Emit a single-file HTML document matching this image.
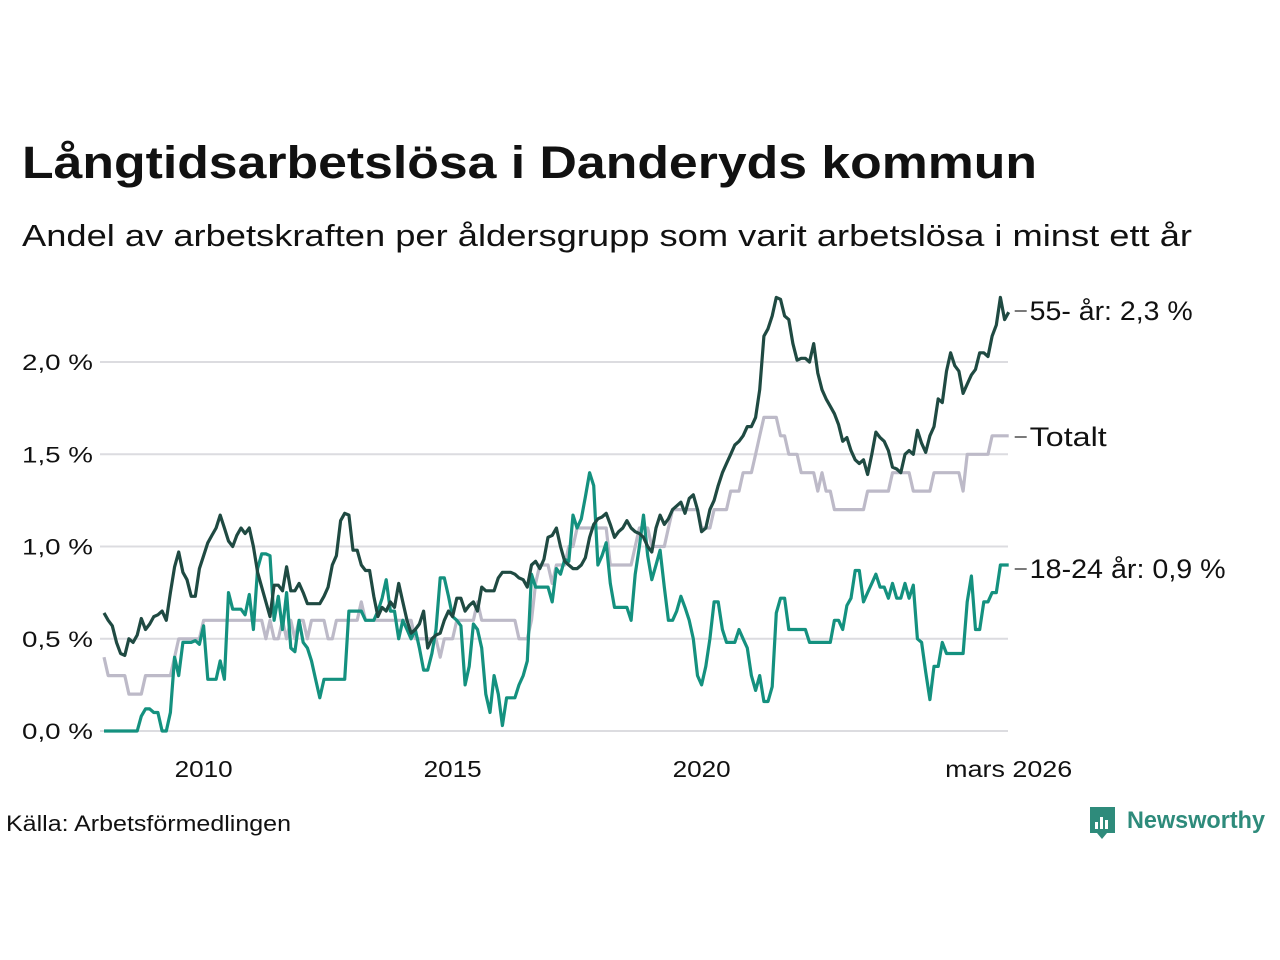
<!DOCTYPE html>
<html><head><meta charset="utf-8">
<style>
html,body{margin:0;padding:0;background:#fff;}
svg{display:block;font-family:"Liberation Sans",sans-serif;}
</style></head>
<body>
<svg id="chart" width="1280" height="960" viewBox="0 0 1280 960" xmlns="http://www.w3.org/2000/svg">
<rect width="1280" height="960" fill="#fff"/>
<text x="22" y="178" font-size="45" font-weight="bold" fill="#111" textLength="1015" lengthAdjust="spacingAndGlyphs">Långtidsarbetslösa i Danderyds kommun</text>
<text x="22" y="246" font-size="31" fill="#111" textLength="1170" lengthAdjust="spacingAndGlyphs">Andel av arbetskraften per åldersgrupp som varit arbetslösa i minst ett år</text>
<g id="grid"></g>
<g id="series"></g>
<g id="labels"></g>
<text x="6" y="831" font-size="22" fill="#111" textLength="285" lengthAdjust="spacingAndGlyphs">Källa: Arbetsförmedlingen</text>
<g>
<path d="M1090 807 h25 v26 h-8 l-5 6 l-5 -6 h-7 z" fill="#2e8b7b"/>
<rect x="1095" y="822" width="3" height="7" fill="#fff"/>
<rect x="1100" y="817" width="3" height="12" fill="#fff"/>
<rect x="1105" y="820" width="3" height="9" fill="#fff"/>
<text x="1127" y="828" font-size="24" font-weight="bold" fill="#2e8b7b" textLength="138" lengthAdjust="spacingAndGlyphs">Newsworthy</text>
</g>
</svg>
<script>
const yTicks = [0, 0.5, 1.0, 1.5, 2.0];
const yTickLabels = ["0,0 %", "0,5 %", "1,0 %", "1,5 %", "2,0 %"];
const xTickYears = [2010, 2015, 2020];
const xTickLabels = ["2010", "2015", "2020"];
const startYear = 2008;
const endLabel = "mars 2026";
const seriesNames = ["55- år: 2,3 %", "Totalt", "18-24 år: 0,9 %"];
const age55 = [
0.64,0.6,0.57,0.48,0.42,0.41,0.5,0.48,0.52,0.61,0.55,0.58,
0.62,0.63,0.65,0.6,0.75,0.89,0.97,0.86,0.82,0.73,0.73,0.88,
0.95,1.02,1.06,1.1,1.17,1.1,1.03,1.0,1.06,1.1,1.07,1.1,
1.0,0.86,0.78,0.7,0.62,0.79,0.79,0.76,0.89,0.76,0.76,0.8,
0.75,0.69,0.69,0.69,0.69,0.73,0.78,0.9,0.95,1.14,1.18,1.17,
0.98,0.98,0.9,0.87,0.87,0.73,0.62,0.67,0.65,0.7,0.67,0.8,
0.7,0.6,0.53,0.55,0.58,0.65,0.45,0.5,0.52,0.53,0.6,0.65,
0.62,0.72,0.72,0.65,0.68,0.7,0.65,0.78,0.76,0.76,0.76,0.83,
0.86,0.86,0.86,0.85,0.83,0.82,0.78,0.9,0.92,0.88,0.93,1.05,
1.06,1.1,1.0,0.92,0.9,0.88,0.88,0.9,0.94,1.05,1.12,1.15,
1.16,1.18,1.12,1.05,1.08,1.1,1.14,1.1,1.08,1.07,1.05,1.0,
0.97,1.1,1.17,1.12,1.15,1.2,1.22,1.24,1.18,1.26,1.28,1.2,
1.08,1.1,1.2,1.25,1.33,1.4,1.45,1.5,1.55,1.57,1.6,1.65,
1.65,1.7,1.85,2.14,2.18,2.25,2.35,2.34,2.25,2.23,2.1,2.01,
2.02,2.02,2.0,2.1,1.94,1.85,1.8,1.76,1.72,1.66,1.57,1.59,
1.52,1.47,1.45,1.47,1.39,1.5,1.62,1.59,1.57,1.52,1.43,1.42,
1.4,1.5,1.52,1.5,1.63,1.56,1.51,1.6,1.65,1.8,1.78,1.95,
2.05,1.98,1.95,1.83,1.88,1.93,1.96,2.05,2.05,2.03,2.14,2.2,
2.35,2.23,2.27];
const total = [
0.4,0.3,0.3,0.3,0.3,0.3,0.2,0.2,0.2,0.2,0.3,0.3,
0.3,0.3,0.3,0.3,0.3,0.4,0.5,0.5,0.5,0.5,0.5,0.5,
0.6,0.6,0.6,0.6,0.6,0.6,0.6,0.6,0.6,0.6,0.6,0.6,
0.6,0.6,0.6,0.5,0.6,0.5,0.5,0.6,0.5,0.6,0.5,0.6,
0.6,0.5,0.6,0.6,0.6,0.6,0.5,0.5,0.6,0.6,0.6,0.6,
0.6,0.6,0.7,0.6,0.6,0.6,0.6,0.6,0.6,0.6,0.6,0.6,
0.6,0.6,0.6,0.5,0.5,0.5,0.5,0.5,0.5,0.4,0.5,0.5,
0.5,0.6,0.6,0.6,0.6,0.6,0.7,0.6,0.6,0.6,0.6,0.6,
0.6,0.6,0.6,0.6,0.5,0.5,0.5,0.6,0.8,0.9,0.9,0.9,
0.8,0.9,0.9,0.9,1.0,1.0,1.1,1.1,1.1,1.1,1.1,1.1,
1.1,1.1,0.9,0.9,0.9,0.9,0.9,0.9,1.0,1.1,1.1,1.1,
1.0,1.0,1.0,1.0,1.1,1.2,1.2,1.2,1.2,1.2,1.2,1.2,
1.1,1.1,1.1,1.2,1.2,1.2,1.2,1.3,1.3,1.3,1.4,1.4,
1.4,1.5,1.6,1.7,1.7,1.7,1.7,1.6,1.6,1.5,1.5,1.5,
1.4,1.4,1.4,1.4,1.3,1.4,1.3,1.3,1.2,1.2,1.2,1.2,
1.2,1.2,1.2,1.2,1.3,1.3,1.3,1.3,1.3,1.3,1.4,1.4,
1.4,1.4,1.4,1.3,1.3,1.3,1.3,1.3,1.4,1.4,1.4,1.4,
1.4,1.4,1.4,1.3,1.5,1.5,1.5,1.5,1.5,1.5,1.6,1.6,
1.6,1.6,1.6];
const age1824 = [
0,0,0,0,0,0,0,0,0,0.08,0.12,0.12,
0.1,0.1,0,0,0.1,0.4,0.3,0.48,0.48,0.48,0.49,0.47,
0.57,0.28,0.28,0.28,0.38,0.28,0.75,0.66,0.66,0.66,0.63,0.74,
0.55,0.88,0.96,0.96,0.95,0.6,0.73,0.55,0.75,0.45,0.43,0.6,
0.48,0.45,0.38,0.28,0.18,0.28,0.28,0.28,0.28,0.28,0.28,0.65,
0.65,0.65,0.65,0.6,0.6,0.6,0.65,0.72,0.82,0.65,0.65,0.5,
0.6,0.55,0.5,0.55,0.45,0.33,0.33,0.42,0.55,0.83,0.83,0.73,
0.62,0.6,0.57,0.25,0.35,0.58,0.55,0.45,0.2,0.1,0.3,0.2,
0.03,0.18,0.18,0.18,0.25,0.3,0.38,0.85,0.78,0.78,0.78,0.78,
0.7,0.88,0.85,0.93,0.92,1.17,1.1,1.15,1.27,1.4,1.33,0.9,
0.95,1.02,0.8,0.67,0.67,0.67,0.67,0.6,0.85,1.0,1.17,0.95,
0.82,0.9,0.98,0.78,0.6,0.6,0.65,0.73,0.67,0.6,0.5,0.3,
0.25,0.35,0.5,0.7,0.7,0.55,0.48,0.48,0.48,0.55,0.5,0.45,
0.3,0.22,0.3,0.16,0.16,0.24,0.64,0.72,0.72,0.55,0.55,0.55,
0.55,0.55,0.48,0.48,0.48,0.48,0.48,0.48,0.6,0.6,0.55,0.68,
0.72,0.87,0.87,0.7,0.75,0.8,0.85,0.78,0.78,0.72,0.8,0.72,
0.72,0.8,0.72,0.79,0.5,0.48,0.32,0.17,0.35,0.35,0.48,0.42,
0.42,0.42,0.42,0.42,0.7,0.84,0.55,0.55,0.7,0.7,0.75,0.75,
0.9,0.9,0.9];

const NS = "http://www.w3.org/2000/svg";
const x0 = 104, monthW = 4.15, y0 = 731, unitPx = 184.5;
function xScale(monthIndex){ return x0 + monthIndex * monthW; }
function yScale(v){ return y0 - v * unitPx; }
function mk(tag, attrs, parent){ const e = document.createElementNS(NS, tag); for (const k in attrs) e.setAttribute(k, attrs[k]); parent.appendChild(e); return e; }

const grid = document.getElementById('grid');
const labels = document.getElementById('labels');
const series = document.getElementById('series');

yTicks.forEach((t, i) => {
  const ln = mk('line', {x1: 100, x2: 1008, y1: yScale(t), y2: yScale(t), stroke: '#dcdce0', 'stroke-width': 2}, grid);
  
  
  const tx = mk('text', {x: 93, y: yScale(t) + 8, 'font-size': 22, 'text-anchor': 'end', fill: '#111', textLength: 71, lengthAdjust: 'spacingAndGlyphs'}, labels);
  tx.textContent = yTickLabels[i];
  
  
});
xTickYears.forEach((yr, i) => {
  const tx = mk('text', {x: xScale((yr - startYear) * 12), y: 777, 'font-size': 23, 'text-anchor': 'middle', fill: '#111', textLength: 58, lengthAdjust: 'spacingAndGlyphs'}, labels);
  tx.textContent = xTickLabels[i];
  
  
});
const endTx = mk('text', {x: xScale(age55.length - 1), y: 777, 'font-size': 23, 'text-anchor': 'middle', fill: '#111', textLength: 127, lengthAdjust: 'spacingAndGlyphs'}, labels);
endTx.textContent = endLabel;



function drawLine(data, color, name){
  const d = data.map((v, i) => (i ? 'L' : 'M') + xScale(i).toFixed(1) + ' ' + yScale(v).toFixed(1)).join(' ');
  const p = mk('path', {d: d, fill: 'none', stroke: color, 'stroke-width': 3.2, 'stroke-linejoin': 'round'}, series);
  
  
}
drawLine(total, '#bdbac8', 'line-totalt');
drawLine(age1824, '#14917f', 'line-18-24');
drawLine(age55, '#1f4a42', 'line-55');

const lastX = xScale(age55.length - 1);
const endVals = [age55[age55.length-1], total[total.length-1], age1824[age1824.length-1]];
const labelYs = [311, 437, 569];
const labelWidths = [163, 77, 196];
endVals.forEach((v, i) => {
  const ld = mk('line', {x1: lastX + 6, x2: lastX + 18, y1: labelYs[i], y2: labelYs[i], stroke: '#333', 'stroke-width': 1.3}, labels);
  
  
  const tx = mk('text', {x: lastX + 21, y: labelYs[i] + 9, 'font-size': 27, fill: '#111', textLength: labelWidths[i], lengthAdjust: 'spacingAndGlyphs'}, labels);
  tx.textContent = seriesNames[i];
  
  
});
</script>
</body></html>
